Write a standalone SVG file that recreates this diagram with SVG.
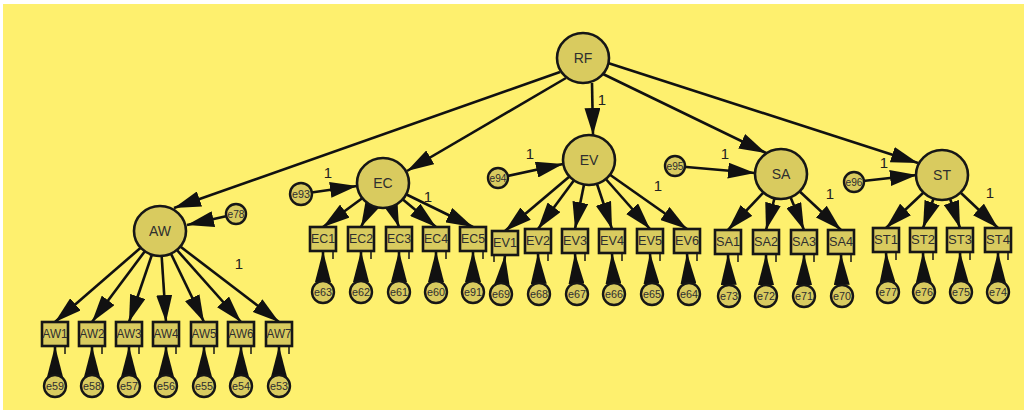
<svg xmlns="http://www.w3.org/2000/svg" width="1024" height="416" viewBox="0 0 1024 416">
<style>
.bg{fill:#FEF06E}
.lat{fill:#D9CB5F;stroke:#161616;stroke-width:2.6}
.obs{fill:#D9CB5F;stroke:#161616;stroke-width:2.6}
.err{fill:#D9CB5F;stroke:#161616;stroke-width:2.4}
.tick{stroke:#161616;stroke-width:1.5}
.c{stroke:#111;stroke-width:2.6;fill:none}
.a{marker-end:url(#ah)}
.t{marker-end:url(#tear)}
text{font-family:"Liberation Sans",Arial,sans-serif;fill:#2e2e2e;text-anchor:middle}
.lt{font-size:14px}
.ot{font-size:12.5px}
.et{font-size:10.5px}
.one{font-size:15px;fill:#222}
</style>
<defs>
<marker id="ah" viewBox="0 0 27 16" markerWidth="27" markerHeight="16" refX="27" refY="8" orient="auto" markerUnits="userSpaceOnUse"><path d="M0,0 L27,8 L0,16 z" fill="#111"/></marker>
<marker id="tear" viewBox="0 0 31 16" markerWidth="31" markerHeight="16" refX="31" refY="8" orient="auto" markerUnits="userSpaceOnUse"><path d="M0,0 L31,8 L0,16 z" fill="#111"/></marker>
</defs>
<rect width="1024" height="416" fill="#fff"/>
<rect class="bg" x="3" y="4" width="1021" height="406"/>
<g id="connectors">
<line class="c a" x1="560" y1="72" x2="174" y2="208"/>
<line class="c a" x1="566" y1="78" x2="407" y2="171"/>
<line class="c a" x1="592" y1="83" x2="593" y2="135"/>
<line class="c a" x1="603" y1="74" x2="766" y2="153"/>
<line class="c a" x1="608" y1="63" x2="918" y2="163"/>
<line class="c a" x1="236" y1="214" x2="187" y2="225"/>
<line class="c a" x1="301" y1="194" x2="357" y2="186"/>
<line class="c a" x1="498" y1="178" x2="563" y2="164"/>
<line class="c a" x1="675" y1="166" x2="755" y2="173"/>
<line class="c a" x1="854" y1="182" x2="917" y2="175"/>
<line class="c a" x1="160" y1="231" x2="55" y2="322"/>
<line class="c a" x1="160" y1="231" x2="92" y2="322"/>
<line class="c a" x1="160" y1="231" x2="129" y2="322"/>
<line class="c a" x1="160" y1="231" x2="166" y2="322"/>
<line class="c a" x1="160" y1="231" x2="204" y2="322"/>
<line class="c a" x1="160" y1="231" x2="241" y2="322"/>
<line class="c a" x1="160" y1="231" x2="279" y2="322"/>
<line class="c a" x1="383" y1="183" x2="323" y2="227"/>
<line class="c a" x1="383" y1="183" x2="361" y2="227"/>
<line class="c a" x1="383" y1="183" x2="399" y2="227"/>
<line class="c a" x1="383" y1="183" x2="436" y2="227"/>
<line class="c a" x1="383" y1="183" x2="473" y2="227"/>
<line class="c a" x1="589" y1="160" x2="505" y2="231"/>
<line class="c a" x1="589" y1="160" x2="538" y2="229"/>
<line class="c a" x1="589" y1="160" x2="575" y2="229"/>
<line class="c a" x1="589" y1="160" x2="612" y2="229"/>
<line class="c a" x1="589" y1="160" x2="650" y2="229"/>
<line class="c a" x1="589" y1="160" x2="687" y2="229"/>
<line class="c a" x1="781" y1="174" x2="728" y2="230"/>
<line class="c a" x1="781" y1="174" x2="766" y2="230"/>
<line class="c a" x1="781" y1="174" x2="804" y2="230"/>
<line class="c a" x1="781" y1="174" x2="841" y2="230"/>
<line class="c a" x1="942" y1="175" x2="886" y2="228"/>
<line class="c a" x1="942" y1="175" x2="923" y2="228"/>
<line class="c a" x1="942" y1="175" x2="960" y2="228"/>
<line class="c a" x1="942" y1="175" x2="998" y2="228"/>
<line class="c t" x1="55" y1="386" x2="55" y2="346"/>
<line class="c t" x1="92" y1="386" x2="92" y2="346"/>
<line class="c t" x1="129" y1="386" x2="129" y2="346"/>
<line class="c t" x1="166" y1="386" x2="166" y2="346"/>
<line class="c t" x1="204" y1="386" x2="204" y2="346"/>
<line class="c t" x1="241" y1="386" x2="241" y2="346"/>
<line class="c t" x1="279" y1="386" x2="279" y2="346"/>
<line class="c t" x1="323" y1="292" x2="323" y2="251"/>
<line class="c t" x1="361" y1="292" x2="361" y2="251"/>
<line class="c t" x1="399" y1="292" x2="399" y2="251"/>
<line class="c t" x1="436" y1="292" x2="436" y2="251"/>
<line class="c t" x1="473" y1="292" x2="473" y2="251"/>
<line class="c t" x1="501" y1="294" x2="505" y2="255"/>
<line class="c t" x1="539" y1="294" x2="538" y2="253"/>
<line class="c t" x1="577" y1="294" x2="575" y2="253"/>
<line class="c t" x1="614" y1="294" x2="612" y2="253"/>
<line class="c t" x1="652" y1="294" x2="650" y2="253"/>
<line class="c t" x1="689" y1="294" x2="687" y2="253"/>
<line class="c t" x1="729" y1="296" x2="728" y2="254"/>
<line class="c t" x1="766" y1="296" x2="766" y2="254"/>
<line class="c t" x1="804" y1="296" x2="804" y2="254"/>
<line class="c t" x1="842" y1="296" x2="841" y2="254"/>
<line class="c t" x1="888" y1="292" x2="886" y2="252"/>
<line class="c t" x1="924" y1="292" x2="923" y2="252"/>
<line class="c t" x1="961" y1="292" x2="960" y2="252"/>
<line class="c t" x1="998" y1="292" x2="998" y2="252"/>
</g>
<g id="labels">
<text class="one" x="602" y="105">1</text>
<text class="one" x="239" y="269">1</text>
<text class="one" x="328" y="178">1</text>
<text class="one" x="428" y="202">1</text>
<text class="one" x="530" y="159">1</text>
<text class="one" x="658" y="191">1</text>
<text class="one" x="725" y="159">1</text>
<text class="one" x="830" y="199">1</text>
<text class="one" x="884" y="168">1</text>
<text class="one" x="990" y="198">1</text>
</g>
<g id="RF"><ellipse class="lat" cx="583" cy="58" rx="26" ry="25"/><text class="lt" x="583" y="63">RF</text></g>
<g id="AW"><ellipse class="lat" cx="160" cy="231" rx="26" ry="25"/><text class="lt" x="160" y="236">AW</text></g>
<g id="EC"><ellipse class="lat" cx="383" cy="183" rx="26" ry="25"/><text class="lt" x="383" y="188">EC</text></g>
<g id="EV"><ellipse class="lat" cx="589" cy="160" rx="26" ry="25"/><text class="lt" x="589" y="165">EV</text></g>
<g id="SA"><ellipse class="lat" cx="781" cy="174" rx="26" ry="25"/><text class="lt" x="781" y="179">SA</text></g>
<g id="ST"><ellipse class="lat" cx="942" cy="175" rx="26" ry="25"/><text class="lt" x="942" y="180">ST</text></g>
<g id="e78"><circle class="err" cx="236" cy="214" r="10"/><text class="et" x="236" y="218" textLength="17" lengthAdjust="spacingAndGlyphs">e78</text></g>
<g id="e93"><circle class="err" cx="301" cy="194" r="11"/><text class="et" x="301" y="198" textLength="18" lengthAdjust="spacingAndGlyphs">e93</text></g>
<g id="e94"><circle class="err" cx="498" cy="178" r="10"/><text class="et" x="498" y="182" textLength="17" lengthAdjust="spacingAndGlyphs">e94</text></g>
<g id="e95"><circle class="err" cx="675" cy="166" r="10"/><text class="et" x="675" y="170" textLength="17" lengthAdjust="spacingAndGlyphs">e95</text></g>
<g id="e96"><circle class="err" cx="854" cy="182" r="10"/><text class="et" x="854" y="186" textLength="17" lengthAdjust="spacingAndGlyphs">e96</text></g>
<g id="AW1"><rect class="obs" x="42" y="322" width="26" height="24"/><line class="tick" x1="65" y1="346" x2="65" y2="354"/><text class="ot" x="55" y="338" textLength="25" lengthAdjust="spacingAndGlyphs">AW1</text></g>
<g id="AW2"><rect class="obs" x="79" y="322" width="26" height="24"/><line class="tick" x1="102" y1="346" x2="102" y2="354"/><text class="ot" x="92" y="338" textLength="25" lengthAdjust="spacingAndGlyphs">AW2</text></g>
<g id="AW3"><rect class="obs" x="116" y="322" width="26" height="24"/><line class="tick" x1="139" y1="346" x2="139" y2="354"/><text class="ot" x="129" y="338" textLength="25" lengthAdjust="spacingAndGlyphs">AW3</text></g>
<g id="AW4"><rect class="obs" x="153" y="322" width="26" height="24"/><line class="tick" x1="176" y1="346" x2="176" y2="354"/><text class="ot" x="166" y="338" textLength="25" lengthAdjust="spacingAndGlyphs">AW4</text></g>
<g id="AW5"><rect class="obs" x="191" y="322" width="26" height="24"/><line class="tick" x1="214" y1="346" x2="214" y2="354"/><text class="ot" x="204" y="338" textLength="25" lengthAdjust="spacingAndGlyphs">AW5</text></g>
<g id="AW6"><rect class="obs" x="228" y="322" width="26" height="24"/><line class="tick" x1="251" y1="346" x2="251" y2="354"/><text class="ot" x="241" y="338" textLength="25" lengthAdjust="spacingAndGlyphs">AW6</text></g>
<g id="AW7"><rect class="obs" x="266" y="322" width="26" height="24"/><line class="tick" x1="289" y1="346" x2="289" y2="354"/><text class="ot" x="279" y="338" textLength="25" lengthAdjust="spacingAndGlyphs">AW7</text></g>
<g id="EC1"><rect class="obs" x="310" y="227" width="26" height="24"/><line class="tick" x1="333" y1="251" x2="333" y2="259"/><text class="ot" x="323" y="243" textLength="24" lengthAdjust="spacingAndGlyphs">EC1</text></g>
<g id="EC2"><rect class="obs" x="348" y="227" width="26" height="24"/><line class="tick" x1="371" y1="251" x2="371" y2="259"/><text class="ot" x="361" y="243" textLength="24" lengthAdjust="spacingAndGlyphs">EC2</text></g>
<g id="EC3"><rect class="obs" x="386" y="227" width="26" height="24"/><line class="tick" x1="409" y1="251" x2="409" y2="259"/><text class="ot" x="399" y="243" textLength="24" lengthAdjust="spacingAndGlyphs">EC3</text></g>
<g id="EC4"><rect class="obs" x="423" y="227" width="26" height="24"/><line class="tick" x1="446" y1="251" x2="446" y2="259"/><text class="ot" x="436" y="243" textLength="24" lengthAdjust="spacingAndGlyphs">EC4</text></g>
<g id="EC5"><rect class="obs" x="460" y="227" width="26" height="24"/><line class="tick" x1="483" y1="251" x2="483" y2="259"/><text class="ot" x="473" y="243" textLength="24" lengthAdjust="spacingAndGlyphs">EC5</text></g>
<g id="EV1"><rect class="obs" x="492" y="231" width="26" height="24"/><line class="tick" x1="494" y1="255" x2="494" y2="262"/><text class="ot" x="505" y="247" textLength="24" lengthAdjust="spacingAndGlyphs">EV1</text></g>
<g id="EV2"><rect class="obs" x="525" y="229" width="26" height="24"/><line class="tick" x1="548" y1="253" x2="548" y2="261"/><text class="ot" x="538" y="245" textLength="24" lengthAdjust="spacingAndGlyphs">EV2</text></g>
<g id="EV3"><rect class="obs" x="562" y="229" width="26" height="24"/><line class="tick" x1="585" y1="253" x2="585" y2="261"/><text class="ot" x="575" y="245" textLength="24" lengthAdjust="spacingAndGlyphs">EV3</text></g>
<g id="EV4"><rect class="obs" x="599" y="229" width="26" height="24"/><line class="tick" x1="622" y1="253" x2="622" y2="261"/><text class="ot" x="612" y="245" textLength="24" lengthAdjust="spacingAndGlyphs">EV4</text></g>
<g id="EV5"><rect class="obs" x="637" y="229" width="26" height="24"/><line class="tick" x1="660" y1="253" x2="660" y2="261"/><text class="ot" x="650" y="245" textLength="24" lengthAdjust="spacingAndGlyphs">EV5</text></g>
<g id="EV6"><rect class="obs" x="674" y="229" width="26" height="24"/><line class="tick" x1="697" y1="253" x2="697" y2="261"/><text class="ot" x="687" y="245" textLength="24" lengthAdjust="spacingAndGlyphs">EV6</text></g>
<g id="SA1"><rect class="obs" x="715" y="230" width="26" height="24"/><line class="tick" x1="738" y1="254" x2="738" y2="262"/><text class="ot" x="728" y="246" textLength="24" lengthAdjust="spacingAndGlyphs">SA1</text></g>
<g id="SA2"><rect class="obs" x="753" y="230" width="26" height="24"/><line class="tick" x1="776" y1="254" x2="776" y2="262"/><text class="ot" x="766" y="246" textLength="24" lengthAdjust="spacingAndGlyphs">SA2</text></g>
<g id="SA3"><rect class="obs" x="791" y="230" width="26" height="24"/><line class="tick" x1="814" y1="254" x2="814" y2="262"/><text class="ot" x="804" y="246" textLength="24" lengthAdjust="spacingAndGlyphs">SA3</text></g>
<g id="SA4"><rect class="obs" x="828" y="230" width="26" height="24"/><line class="tick" x1="851" y1="254" x2="851" y2="262"/><text class="ot" x="841" y="246" textLength="24" lengthAdjust="spacingAndGlyphs">SA4</text></g>
<g id="ST1"><rect class="obs" x="873" y="228" width="26" height="24"/><line class="tick" x1="896" y1="252" x2="896" y2="260"/><text class="ot" x="886" y="244" textLength="24" lengthAdjust="spacingAndGlyphs">ST1</text></g>
<g id="ST2"><rect class="obs" x="910" y="228" width="26" height="24"/><line class="tick" x1="933" y1="252" x2="933" y2="260"/><text class="ot" x="923" y="244" textLength="24" lengthAdjust="spacingAndGlyphs">ST2</text></g>
<g id="ST3"><rect class="obs" x="947" y="228" width="26" height="24"/><line class="tick" x1="970" y1="252" x2="970" y2="260"/><text class="ot" x="960" y="244" textLength="24" lengthAdjust="spacingAndGlyphs">ST3</text></g>
<g id="ST4"><rect class="obs" x="985" y="228" width="26" height="24"/><line class="tick" x1="1008" y1="252" x2="1008" y2="260"/><text class="ot" x="998" y="244" textLength="24" lengthAdjust="spacingAndGlyphs">ST4</text></g>
<g id="e59"><circle class="err" cx="55" cy="386" r="11"/><text class="et" x="55" y="390" textLength="18" lengthAdjust="spacingAndGlyphs">e59</text></g>
<g id="e58"><circle class="err" cx="92" cy="386" r="11"/><text class="et" x="92" y="390" textLength="18" lengthAdjust="spacingAndGlyphs">e58</text></g>
<g id="e57"><circle class="err" cx="129" cy="386" r="11"/><text class="et" x="129" y="390" textLength="18" lengthAdjust="spacingAndGlyphs">e57</text></g>
<g id="e56"><circle class="err" cx="166" cy="386" r="11"/><text class="et" x="166" y="390" textLength="18" lengthAdjust="spacingAndGlyphs">e56</text></g>
<g id="e55"><circle class="err" cx="204" cy="386" r="11"/><text class="et" x="204" y="390" textLength="18" lengthAdjust="spacingAndGlyphs">e55</text></g>
<g id="e54"><circle class="err" cx="241" cy="386" r="11"/><text class="et" x="241" y="390" textLength="18" lengthAdjust="spacingAndGlyphs">e54</text></g>
<g id="e53"><circle class="err" cx="279" cy="386" r="11"/><text class="et" x="279" y="390" textLength="18" lengthAdjust="spacingAndGlyphs">e53</text></g>
<g id="e63"><circle class="err" cx="323" cy="292" r="11"/><text class="et" x="323" y="296" textLength="18" lengthAdjust="spacingAndGlyphs">e63</text></g>
<g id="e62"><circle class="err" cx="361" cy="292" r="11"/><text class="et" x="361" y="296" textLength="18" lengthAdjust="spacingAndGlyphs">e62</text></g>
<g id="e61"><circle class="err" cx="399" cy="292" r="11"/><text class="et" x="399" y="296" textLength="18" lengthAdjust="spacingAndGlyphs">e61</text></g>
<g id="e60"><circle class="err" cx="436" cy="292" r="11"/><text class="et" x="436" y="296" textLength="18" lengthAdjust="spacingAndGlyphs">e60</text></g>
<g id="e91"><circle class="err" cx="473" cy="292" r="11"/><text class="et" x="473" y="296" textLength="18" lengthAdjust="spacingAndGlyphs">e91</text></g>
<g id="e69"><circle class="err" cx="501" cy="294" r="11"/><text class="et" x="501" y="298" textLength="18" lengthAdjust="spacingAndGlyphs">e69</text></g>
<g id="e68"><circle class="err" cx="539" cy="294" r="11"/><text class="et" x="539" y="298" textLength="18" lengthAdjust="spacingAndGlyphs">e68</text></g>
<g id="e67"><circle class="err" cx="577" cy="294" r="11"/><text class="et" x="577" y="298" textLength="18" lengthAdjust="spacingAndGlyphs">e67</text></g>
<g id="e66"><circle class="err" cx="614" cy="294" r="11"/><text class="et" x="614" y="298" textLength="18" lengthAdjust="spacingAndGlyphs">e66</text></g>
<g id="e65"><circle class="err" cx="652" cy="294" r="11"/><text class="et" x="652" y="298" textLength="18" lengthAdjust="spacingAndGlyphs">e65</text></g>
<g id="e64"><circle class="err" cx="689" cy="294" r="11"/><text class="et" x="689" y="298" textLength="18" lengthAdjust="spacingAndGlyphs">e64</text></g>
<g id="e73"><circle class="err" cx="729" cy="296" r="11"/><text class="et" x="729" y="300" textLength="18" lengthAdjust="spacingAndGlyphs">e73</text></g>
<g id="e72"><circle class="err" cx="766" cy="296" r="11"/><text class="et" x="766" y="300" textLength="18" lengthAdjust="spacingAndGlyphs">e72</text></g>
<g id="e71"><circle class="err" cx="804" cy="296" r="11"/><text class="et" x="804" y="300" textLength="18" lengthAdjust="spacingAndGlyphs">e71</text></g>
<g id="e70"><circle class="err" cx="842" cy="296" r="11"/><text class="et" x="842" y="300" textLength="18" lengthAdjust="spacingAndGlyphs">e70</text></g>
<g id="e77"><circle class="err" cx="888" cy="292" r="11"/><text class="et" x="888" y="296" textLength="18" lengthAdjust="spacingAndGlyphs">e77</text></g>
<g id="e76"><circle class="err" cx="924" cy="292" r="11"/><text class="et" x="924" y="296" textLength="18" lengthAdjust="spacingAndGlyphs">e76</text></g>
<g id="e75"><circle class="err" cx="961" cy="292" r="11"/><text class="et" x="961" y="296" textLength="18" lengthAdjust="spacingAndGlyphs">e75</text></g>
<g id="e74"><circle class="err" cx="998" cy="292" r="11"/><text class="et" x="998" y="296" textLength="18" lengthAdjust="spacingAndGlyphs">e74</text></g>
</svg>
